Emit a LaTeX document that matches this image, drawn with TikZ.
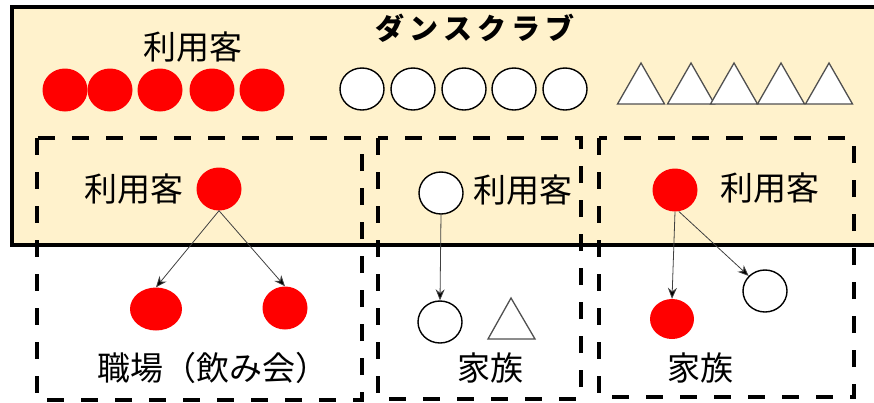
\documentclass[tikz,border=0pt]{standalone}
\usepackage{fontspec}
\setmainfont{Noto Sans CJK JP}
\usetikzlibrary{shapes.geometric,arrows.meta}
\definecolor{boxfill}{RGB}{255,242,204}
\definecolor{tri}{RGB}{80,80,80}
\tikzset{
  redc/.style={ellipse,fill=red,inner sep=0pt,minimum width=45pt,minimum height=43pt},
  whc/.style={ellipse,draw=black,line width=1.4pt,fill=white,inner sep=0pt,minimum width=44pt,minimum height=42pt},
  trishape/.style={draw=tri,line width=1.3pt,fill=white,line join=miter},
  grp/.style={draw=black,line width=3.5pt,dash pattern=on 17pt off 17pt},
  lbl/.style={inner sep=0pt,font=\fontsize{33pt}{33pt}\selectfont},
  ttl/.style={inner sep=0pt,font=\fontsize{29pt}{29pt}\selectfont\bfseries},
  arr/.style={draw=black!75,line width=0.8pt,-{Stealth[length=11pt,width=9pt,fill=black]}}
}
\begin{document}
\begin{tikzpicture}[x=1pt,y=-1pt]
\useasboundingbox (0,0) rectangle (874,402);
% main club box
\draw[line width=4pt,fill=boxfill] (12,7) rectangle (884,245);
% title and top label
\node[ttl] (title) at (475,28) {ダ\,ン\,ス\,ク\,ラ\,ブ};
\node[lbl] (top) at (193,47) {利用客};
% top row red circles
\foreach \x [count=\i] in {65,110,160,212,262}
  \node[redc] (tr\i) at (\x,90) {};
% top row white circles
\foreach \x [count=\i] in {362,413,464,514,565}
  \node[whc] (tw\i) at (\x,89) {};
% top row triangles
\foreach \x in {641,691,734,781,829}
  \draw[trishape] (\x-23.5,104) -- (\x,63) -- (\x+23.5,104) -- cycle;
% group boxes
\draw[grp] (37,138) rectangle (362,400);
\draw[grp] (378,138) rectangle (581,399);
\draw[grp] (599,138) rectangle (854,397);
% group 1
\node[lbl] (l1) at (134,189) {利用客};
\node[redc] (p1) at (219,189) {};
\node[redc,minimum width=52pt,minimum height=43pt] (c1) at (156,309) {};
\node[redc] (c2) at (285,308) {};
\draw[arr] (p1.south) -- (c1.north);
\draw[arr] (p1.south) -- (c2.north);
\node[lbl] (w1) at (213,368) {職場（飲み会）};
% group 2
\node[whc] (q1) at (441,193) {};
\node[lbl] (l2) at (523,190) {利用客};
\node[whc] (q2) at (440,322) {};
\draw[arr] (q1.south) -- (q2.north);
\draw[trishape] (488,339) -- (511,298) -- (535,339) -- cycle;
\node[lbl] (f2) at (490,368) {家族};
% group 3
\node[redc] (r1) at (675,190) {};
\node[lbl] (l3) at (770,188) {利用客};
\node[redc,minimum width=44pt,minimum height=40pt] (r2) at (672,319) {};
\node[whc] (r3) at (765,291) {};
\draw[arr] (r1.south) -- (r2.north);
\draw[arr] (r1.-80) -- (r3);
\node[lbl] (f3) at (700,368) {家族};
\end{tikzpicture}
\end{document}
